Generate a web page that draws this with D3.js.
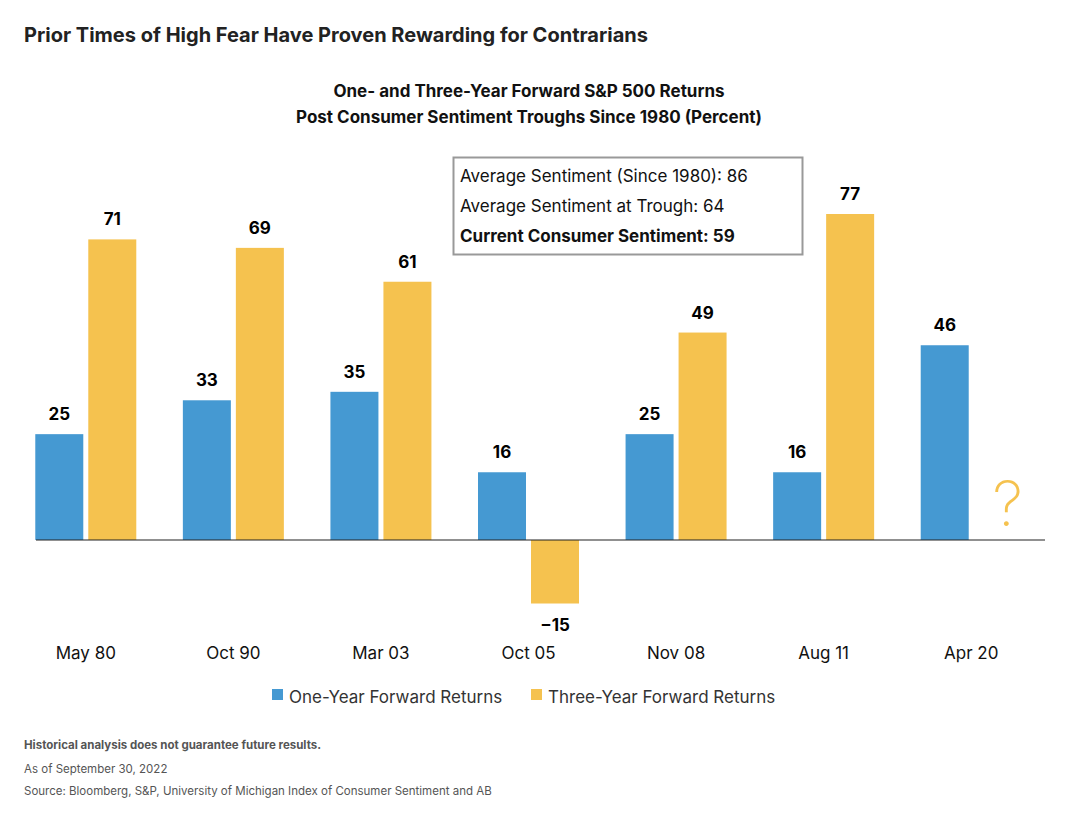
<!DOCTYPE html>
<html><head><meta charset="utf-8">
<script src="https://cdn.jsdelivr.net/npm/d3@7"></script>
<style>body{margin:0;background:#fff;font-family:Inter,"Noto Sans",sans-serif}</style>
</head><body><svg id="c" width="1068" height="828"></svg>
<script>
const categories = ["May 80","Oct 90","Mar 03","Oct 05","Nov 08","Aug 11","Apr 20"]
const oneYear = [25,33,35,16,25,16,46]
const threeYear = [71,69,61,-15,49,77,null]
const boxLines = ["Average Sentiment (Since 1980): 86","Average Sentiment at Trough: 64","Current Consumer Sentiment: 59"]
const blue = "#4599d2", gold = "#f5c24f"

const svg = d3.select("#c")
svg.append("text").attr("x",24).attr("y",42).attr("font-size",20).attr("font-weight",700).attr("fill","#222")
  .text("Prior Times of High Fear Have Proven Rewarding for Contrarians")
svg.append("text").attr("x",529).attr("y",97).attr("text-anchor","middle").attr("font-size",17).attr("font-weight",700).attr("fill","#111")
  .text("One- and Three-Year Forward S&P 500 Returns")
svg.append("text").attr("x",529).attr("y",123).attr("text-anchor","middle").attr("font-size",17).attr("font-weight",700).attr("fill","#111")
  .text("Post Consumer Sentiment Troughs Since 1980 (Percent)")

const x = d3.scaleBand().domain(categories).range([12,1045])
const y = d3.scaleLinear().domain([0,77]).range([540,214])
const bw = 48, gap = 5

const g = svg.append("g")
categories.forEach((c,i)=>{
  const cx = x(c)+x.bandwidth()/2
  const v1 = oneYear[i], v3 = threeYear[i]
  g.append("rect").attr("x",cx-gap/2-bw).attr("width",bw).attr("y",y(Math.max(0,v1))).attr("height",Math.abs(y(v1)-y(0))).attr("fill",blue)
  g.append("text").attr("x",cx-gap/2-bw/2).attr("y",y(v1)-14).attr("text-anchor","middle").attr("font-size",17).attr("font-weight",700).text(v1)
  if (v3!==null){
    g.append("rect").attr("x",cx+gap/2).attr("width",bw).attr("y",y(Math.max(0,v3))).attr("height",Math.abs(y(v3)-y(0))).attr("fill",gold)
    g.append("text").attr("x",cx+gap/2+bw/2).attr("y",v3>=0?y(v3)-14:y(v3)+27).attr("text-anchor","middle").attr("font-size",17).attr("font-weight",700)
      .text(v3>=0?v3:"\u2212"+Math.abs(v3))
  } else {
    g.append("text").attr("x",cx+gap/2+bw/2+10).attr("y",526).attr("text-anchor","middle").attr("font-size",62).attr("font-weight",200).attr("fill",gold).text("?")
  }
  g.append("text").attr("x",cx).attr("y",659).attr("text-anchor","middle").attr("font-size",17).attr("fill","#111").text(c)
})
svg.append("line").attr("x1",36).attr("x2",1045).attr("y1",y(0)).attr("y2",y(0)).attr("stroke","#222").attr("stroke-width",1.2)

svg.append("rect").attr("x",453.5).attr("y",157.5).attr("width",349).attr("height",97).attr("fill","#fff").attr("stroke","#999").attr("stroke-width",2)
boxLines.forEach((t,i)=>svg.append("text").attr("x",460).attr("y",182+i*30).attr("font-size",17)
  .attr("font-weight",i==2?700:400).attr("fill","#111").text(t))

const leg = [["One-Year Forward Returns",blue,272],["Three-Year Forward Returns",gold,531]]
leg.forEach(([t,c,lx])=>{
  svg.append("rect").attr("x",lx).attr("y",689).attr("width",11).attr("height",11).attr("fill",c)
  svg.append("text").attr("x",lx+17).attr("y",703).attr("font-size",17).attr("fill","#333").text(t)
})
svg.append("text").attr("x",24).attr("y",749).attr("font-size",11.5).attr("font-weight",700).attr("fill","#555").text("Historical analysis does not guarantee future results.")
svg.append("text").attr("x",24).attr("y",773).attr("font-size",11.5).attr("fill","#555").text("As of September 30, 2022")
svg.append("text").attr("x",24).attr("y",795).attr("font-size",11.5).attr("fill","#555").text("Source: Bloomberg, S&P, University of Michigan Index of Consumer Sentiment and AB")
</script></body></html>
